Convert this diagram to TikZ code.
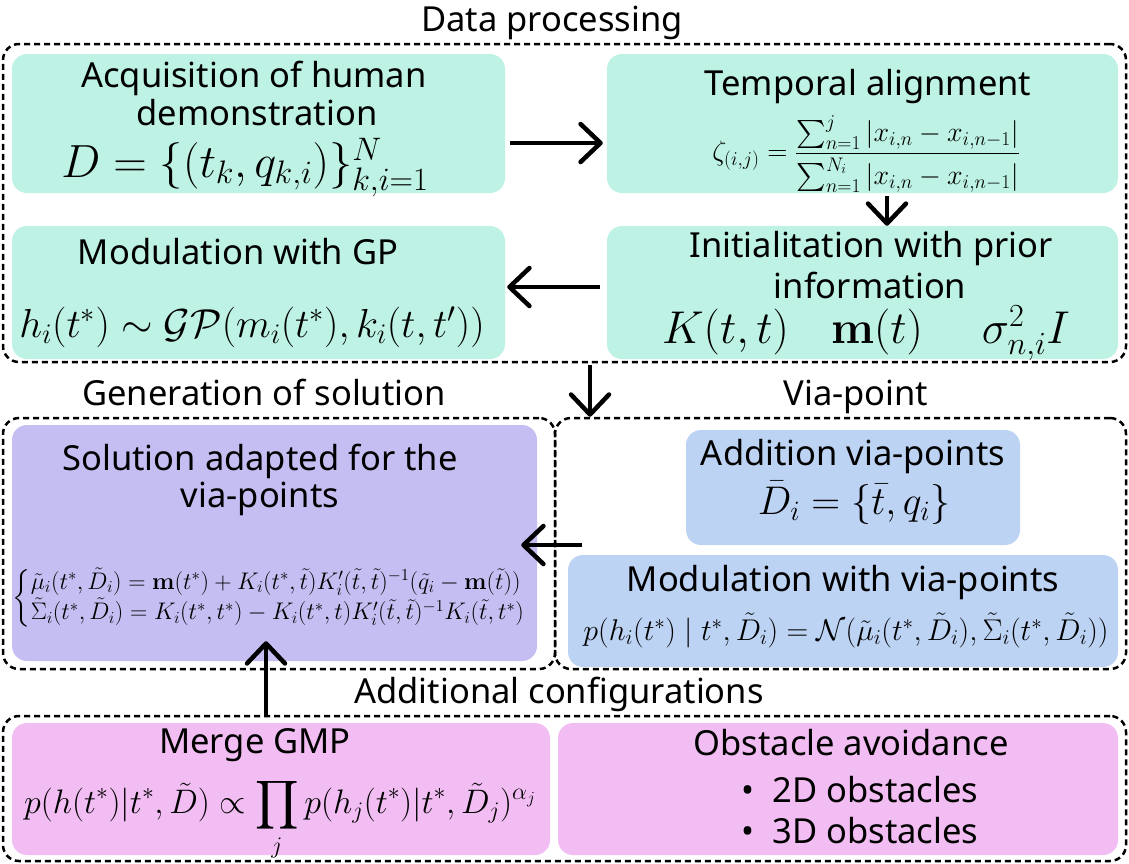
\RequirePackage{fix-cm}
\documentclass[tikz,border=0pt]{standalone}
\usepackage{amsmath,amssymb}
\usepackage[no-math]{fontspec}
\setmainfont{Noto Sans}
\usetikzlibrary{arrows.meta}
\definecolor{mint}{RGB}{189,242,229}
\definecolor{lav}{RGB}{197,190,242}
\definecolor{skyb}{RGB}{189,211,243}
\definecolor{pinkb}{RGB}{242,189,242}
\tikzset{
  box/.style={rounded corners=15pt, inner sep=0pt, draw=none},
  frame/.style={draw=black, line width=2.5pt, dash pattern=on 6pt off 4pt, rounded corners=16pt, inner sep=0pt},
  head/.style={font=\fontsize{34.5}{40}\selectfont, inner sep=0pt, anchor=base, text=black},
  mth/.style={inner sep=0pt, font=\fontsize{#1}{#1}\selectfont, anchor=base},
  mthc/.style={inner sep=0pt, font=\fontsize{#1}{#1}\selectfont},
  arr/.style={line width=4.5pt, -{Straight Barb[length=20pt,width=38pt,round]}},
}
\begin{document}
\begin{tikzpicture}[x=1pt,y=-1pt]
\useasboundingbox (0,0) rectangle (1129,863);
% ---------- frames
\node[frame, minimum width=1123pt, minimum height=318pt] (dp) at (564.5,203) {};
\node[frame, minimum width=552pt, minimum height=251pt] (gen) at (279,543.5) {};
\node[frame, minimum width=571pt, minimum height=251pt] (via) at (840.5,543.5) {};
\node[frame, minimum width=1123pt, minimum height=145pt] (addf) at (564.5,788.5) {};
% ---------- boxes
\node[box, fill=mint, minimum width=493pt, minimum height=139pt] (acq) at (258.5,123.5) {};
\node[box, fill=mint, minimum width=511pt, minimum height=139pt] (temp) at (862.5,123.5) {};
\node[box, fill=mint, minimum width=493pt, minimum height=133pt] (gp) at (258.5,292.5) {};
\node[box, fill=mint, minimum width=511pt, minimum height=133pt] (init) at (862.5,292.5) {};
\node[box, fill=lav, minimum width=525pt, minimum height=236pt] (sol) at (274.5,543) {};
\node[box, fill=skyb, minimum width=334pt, minimum height=115pt] (addv) at (853,487.5) {};
\node[box, fill=skyb, minimum width=550pt, minimum height=112pt] (modv) at (843,611) {};
\node[box, fill=pinkb, minimum width=538pt, minimum height=132pt] (merge) at (281,789) {};
\node[box, fill=pinkb, minimum width=560pt, minimum height=132pt] (obst) at (838,789) {};
% ---------- titles
\node[head] (tdp) at (552,31) {Data processing};
\node[head] (tgen) at (264,405) {Generation of solution};
\node[head] (tvia) at (856,405) {Via-point};
\node[head] (tadd) at (559,703) {Additional configurations};
% ---------- texts
\node[head] (acq1) at (254,87) {Acquisition of human};
\node[head] (acq2) at (257,125) {demonstration};
\node[mth=46.5] (acq3) at (245,177) {$D=\{(t_k,q_{k,i})\}_{k,i=1}^{N}$};
\node[head] (temp1) at (868,95) {Temporal alignment};
\node[mthc=28] (temp2) at (866,154) {$\zeta_{(i,j)}=\dfrac{\sum_{n=1}^{j}|x_{i,n}-x_{i,n-1}|}{\sum_{n=1}^{N_i}|x_{i,n}-x_{i,n-1}|}$};
\node[head] (gp1) at (238,264) {Modulation with GP};
\node[mth=40.5] (gp2) at (252,337) {$h_i(t^*)\sim\mathcal{GP}(m_i(t^*),k_i(t,t'))$};
\node[head] (init1) at (871,257) {Initialitation with prior};
\node[head] (init2) at (870,298) {information};
\node[mth=46] (init3) at (866,343) {$K(t,t)\hspace{42pt}\mathbf{m}(t)\hspace{59pt}\sigma_{n,i}^2I$};
\node[head] (sol1) at (260,470) {Solution adapted for the};
\node[head] (sol2) at (260,507) {via-points};
\node[mthc=24] (sol3) at (281,598) {$\begin{cases}\tilde\mu_i(t^*,\tilde D_i)=\mathbf{m}(t^*)+K_i(t^*,\tilde t)K_i'(\tilde t,\tilde t)^{-1}(\tilde q_i-\mathbf{m}(\tilde t))\\ \tilde\Sigma_i(t^*,\tilde D_i)=K_i(t^*,t^*)-K_i(t^*,t)K_i'(\tilde t,\tilde t)^{-1}K_i(\tilde t,t^*)\end{cases}$};
\node[head] (addv1) at (853,465) {Addition via-points};
\node[mth=40] (addv2) at (854,514) {$\bar D_i=\{\bar t,q_i\}$};
\node[head] (modv1) at (843,591) {Modulation with via-points};
\node[mth=30] (modv2) at (846,640) {$p(h_i(t^*)\mid t^*,\tilde D_i)=\mathcal{N}(\tilde\mu_i(t^*,\tilde D_i),\tilde\Sigma_i(t^*,\tilde D_i))$};
\node[head] (merge1) at (255,753) {Merge GMP};
\node[mthc=34] (merge2) at (280,820) {$\displaystyle p(h(t^*)|t^*,\tilde D)\propto\prod_j p(h_j(t^*)|t^*,\tilde D_j)^{\alpha_j}$};
\node[head] (obst1) at (851,755) {Obstacle avoidance};
\node[head, align=left, anchor=north] (obst2) at (860,776) {\textbullet\ \ 2D obstacles\\[1pt]\textbullet\ \ 3D obstacles};
% ---------- connectors
\coordinate (r1) at (0,143);
\coordinate (c1) at (887,0);
\coordinate (r2) at (0,287);
\coordinate (c2) at (590,0);
\coordinate (vs) at (582,545);
\coordinate (c3) at (266,0);
\draw[arr, shorten <=5pt, shorten >=4pt] (acq.east |- r1) -- (temp.west |- r1);
\draw[arr, shorten <=3pt] (temp.south -| c1) -- (init.north -| c1);
\draw[arr, shorten <=7pt, shorten >=2pt] (init.west |- r2) -- (gp.east |- r2);
\draw[arr, shorten <=2pt] (dp.south -| c2) -- (via.north -| c2);
\draw[arr] (vs) -- ([xshift=-16pt]sol.east |- vs);
\draw[arr] (addf.north -| c3) -- ([yshift=20pt]sol.south -| c3);
\end{tikzpicture}
\end{document}
